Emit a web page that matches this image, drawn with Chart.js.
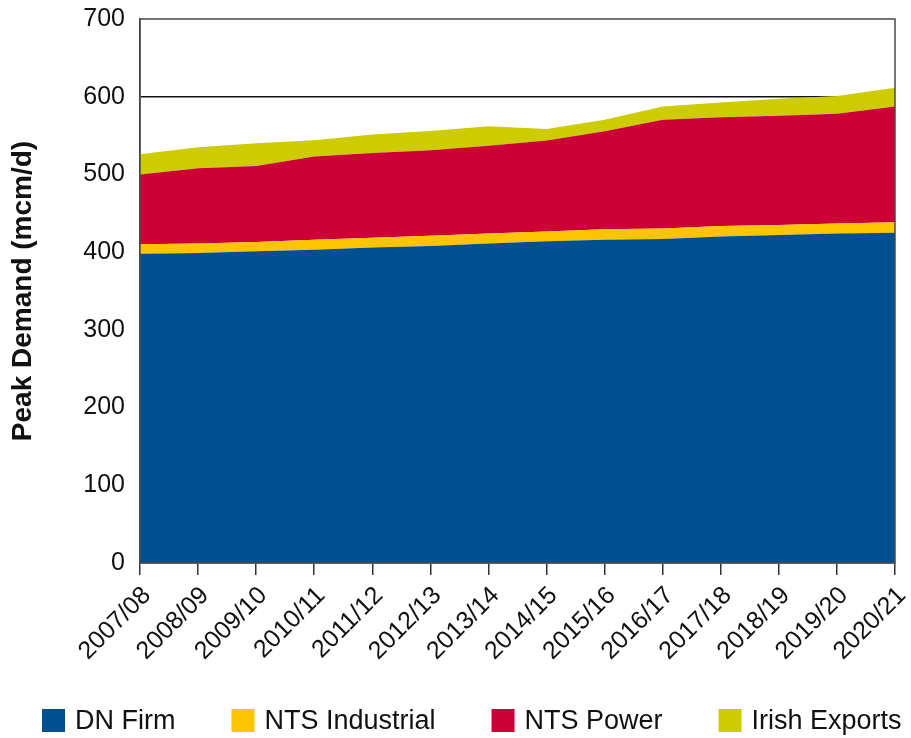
<!DOCTYPE html>
<html>
<head>
<meta charset="utf-8">
<script src="https://cdn.jsdelivr.net/npm/chart.js@4/dist/chart.umd.min.js"></script>
<style>
  html, body { margin: 0; padding: 0; background: #fff; }
  #wrap { width: 911px; height: 738px; }
</style>
</head>
<body>
<div id="wrap"><canvas id="myCanvas"></canvas></div>
<script>
'use strict';

// data (mcm/d)

const years = ['2007/08', '2008/09', '2009/10', '2010/11', '2011/12', '2012/13', '2013/14',
  '2014/15', '2015/16', '2016/17', '2017/18', '2018/19', '2019/20', '2020/21'];
const dnFirm = [398, 399, 401, 403, 406, 408, 411, 414, 416, 417, 420, 422, 424, 425];
const ntsIndustrial = [12, 12, 12, 13, 12.5, 13, 13, 12.5, 13.5, 13.5, 13.5, 13, 13, 13.5];
const ntsPower = [90, 97, 98, 107, 109, 110, 113, 117, 126, 140, 140, 140.5, 141, 149];
const irishExports = [26, 27, 29, 21, 24, 25, 25, 15, 15, 17, 19, 22, 23, 24];
const yTicks = [0, 100, 200, 300, 400, 500, 600, 700];

const seriesNames = ['DN Firm', 'NTS Industrial', 'NTS Power', 'Irish Exports'];
const seriesColours = ['#00508f', '#fdc500', '#cc0036', '#cccc00'];
const seriesValues = [dnFirm, ntsIndustrial, ntsPower, irishExports];

const fontFamily = '"Liberation Sans", Arial, sans-serif';

// box round the plot area
const frame = {
  id: 'frame',
  afterDatasetsDraw(chart) {
    const a = chart.chartArea;
    const ctx = chart.ctx;
    ctx.save();
    ctx.strokeStyle = '#4a4a4a';
    ctx.lineWidth = 1.5;
    ctx.strokeRect(a.left, a.top, a.right - a.left, a.bottom - a.top);
    ctx.restore();
  }
};

// legend row along the bottom, spaced like the original
const bottomLegend = {
  id: 'bottomLegend',
  afterDraw(chart) {
    const ctx = chart.ctx;
    const box = 23;
    const top = chart.height - 29;
    let x = 42;
    ctx.save();
    ctx.font = '27px ' + fontFamily;
    ctx.textBaseline = 'middle';
    ctx.textAlign = 'left';
    chart.data.datasets.forEach((ds) => {
      ctx.fillStyle = ds.backgroundColor;
      ctx.fillRect(x, top, box, box);
      ctx.fillStyle = '#111';
      ctx.fillText(ds.label, x + box + 10, top + box / 2 + 1);
      x += box + 10 + ctx.measureText(ds.label).width + 56;
    });
    ctx.restore();
  }
};

let datasets = [];
for (let i = 0; i < seriesNames.length; i++) {
  datasets.push({
    label: seriesNames[i],
    data: seriesValues[i],
    backgroundColor: seriesColours[i],
    borderColor: seriesColours[i],
    borderWidth: 0,
    pointRadius: 0,
    tension: 0,
    fill: i === 0 ? 'origin' : '-1'
  });
}

const config = {
  type: 'line',
  data: { labels: years, datasets: datasets },
  plugins: [frame, bottomLegend],
  options: {
    responsive: false,
    animation: false,
    devicePixelRatio: 1,
    layout: { padding: { top: 19, right: 16, left: 0, bottom: 75 } },
    plugins: {
      tooltip: { enabled: false },
      legend: { display: false }
    },
    scales: {
      x: {
        offset: false,
        afterFit: (s) => {
          s.height = 100;
          s.paddingLeft = 0;
          s.paddingRight = 0;
        },
        grid: {
          drawOnChartArea: false,
          drawTicks: true,
          tickLength: 12,
          color: '#333',
          lineWidth: 1.5
        },
        border: { display: true, color: '#4a4a4a', width: 1.5 },
        ticks: {
          color: '#111',
          font: { family: fontFamily, size: 25 },
          minRotation: 45,
          maxRotation: 45,
          autoSkip: false,
          padding: 6,
          labelOffset: 7
        }
      },
      y: {
        stacked: true,
        min: 0,
        max: 700,
        afterFit: (s) => {
          s.width = 140;
          s.paddingTop = 0;
          s.paddingBottom = 0;
        },
        afterBuildTicks: (s) => { s.ticks = yTicks.map(v => ({ value: v })); },
        grid: {
          drawTicks: false,
          color: (c) => (c.tick && c.tick.value === 600 ? '#111' : 'rgba(0,0,0,0)'),
          lineWidth: 1.5
        },
        border: { display: true, color: '#4a4a4a', width: 1.5 },
        ticks: {
          color: '#111',
          font: { family: fontFamily, size: 25 },
          padding: 15
        },
        title: {
          display: true,
          text: 'Peak Demand (mcm/d)',
          color: '#111',
          font: { family: fontFamily, size: 28, weight: 'bold' },
          padding: { top: 6, bottom: 0 }
        }
      }
    }
  }
};

const canvas = document.getElementById('myCanvas');
canvas.width = 911;
canvas.height = 738;
const myChart = new Chart(canvas, config);
</script>
</body>
</html>
